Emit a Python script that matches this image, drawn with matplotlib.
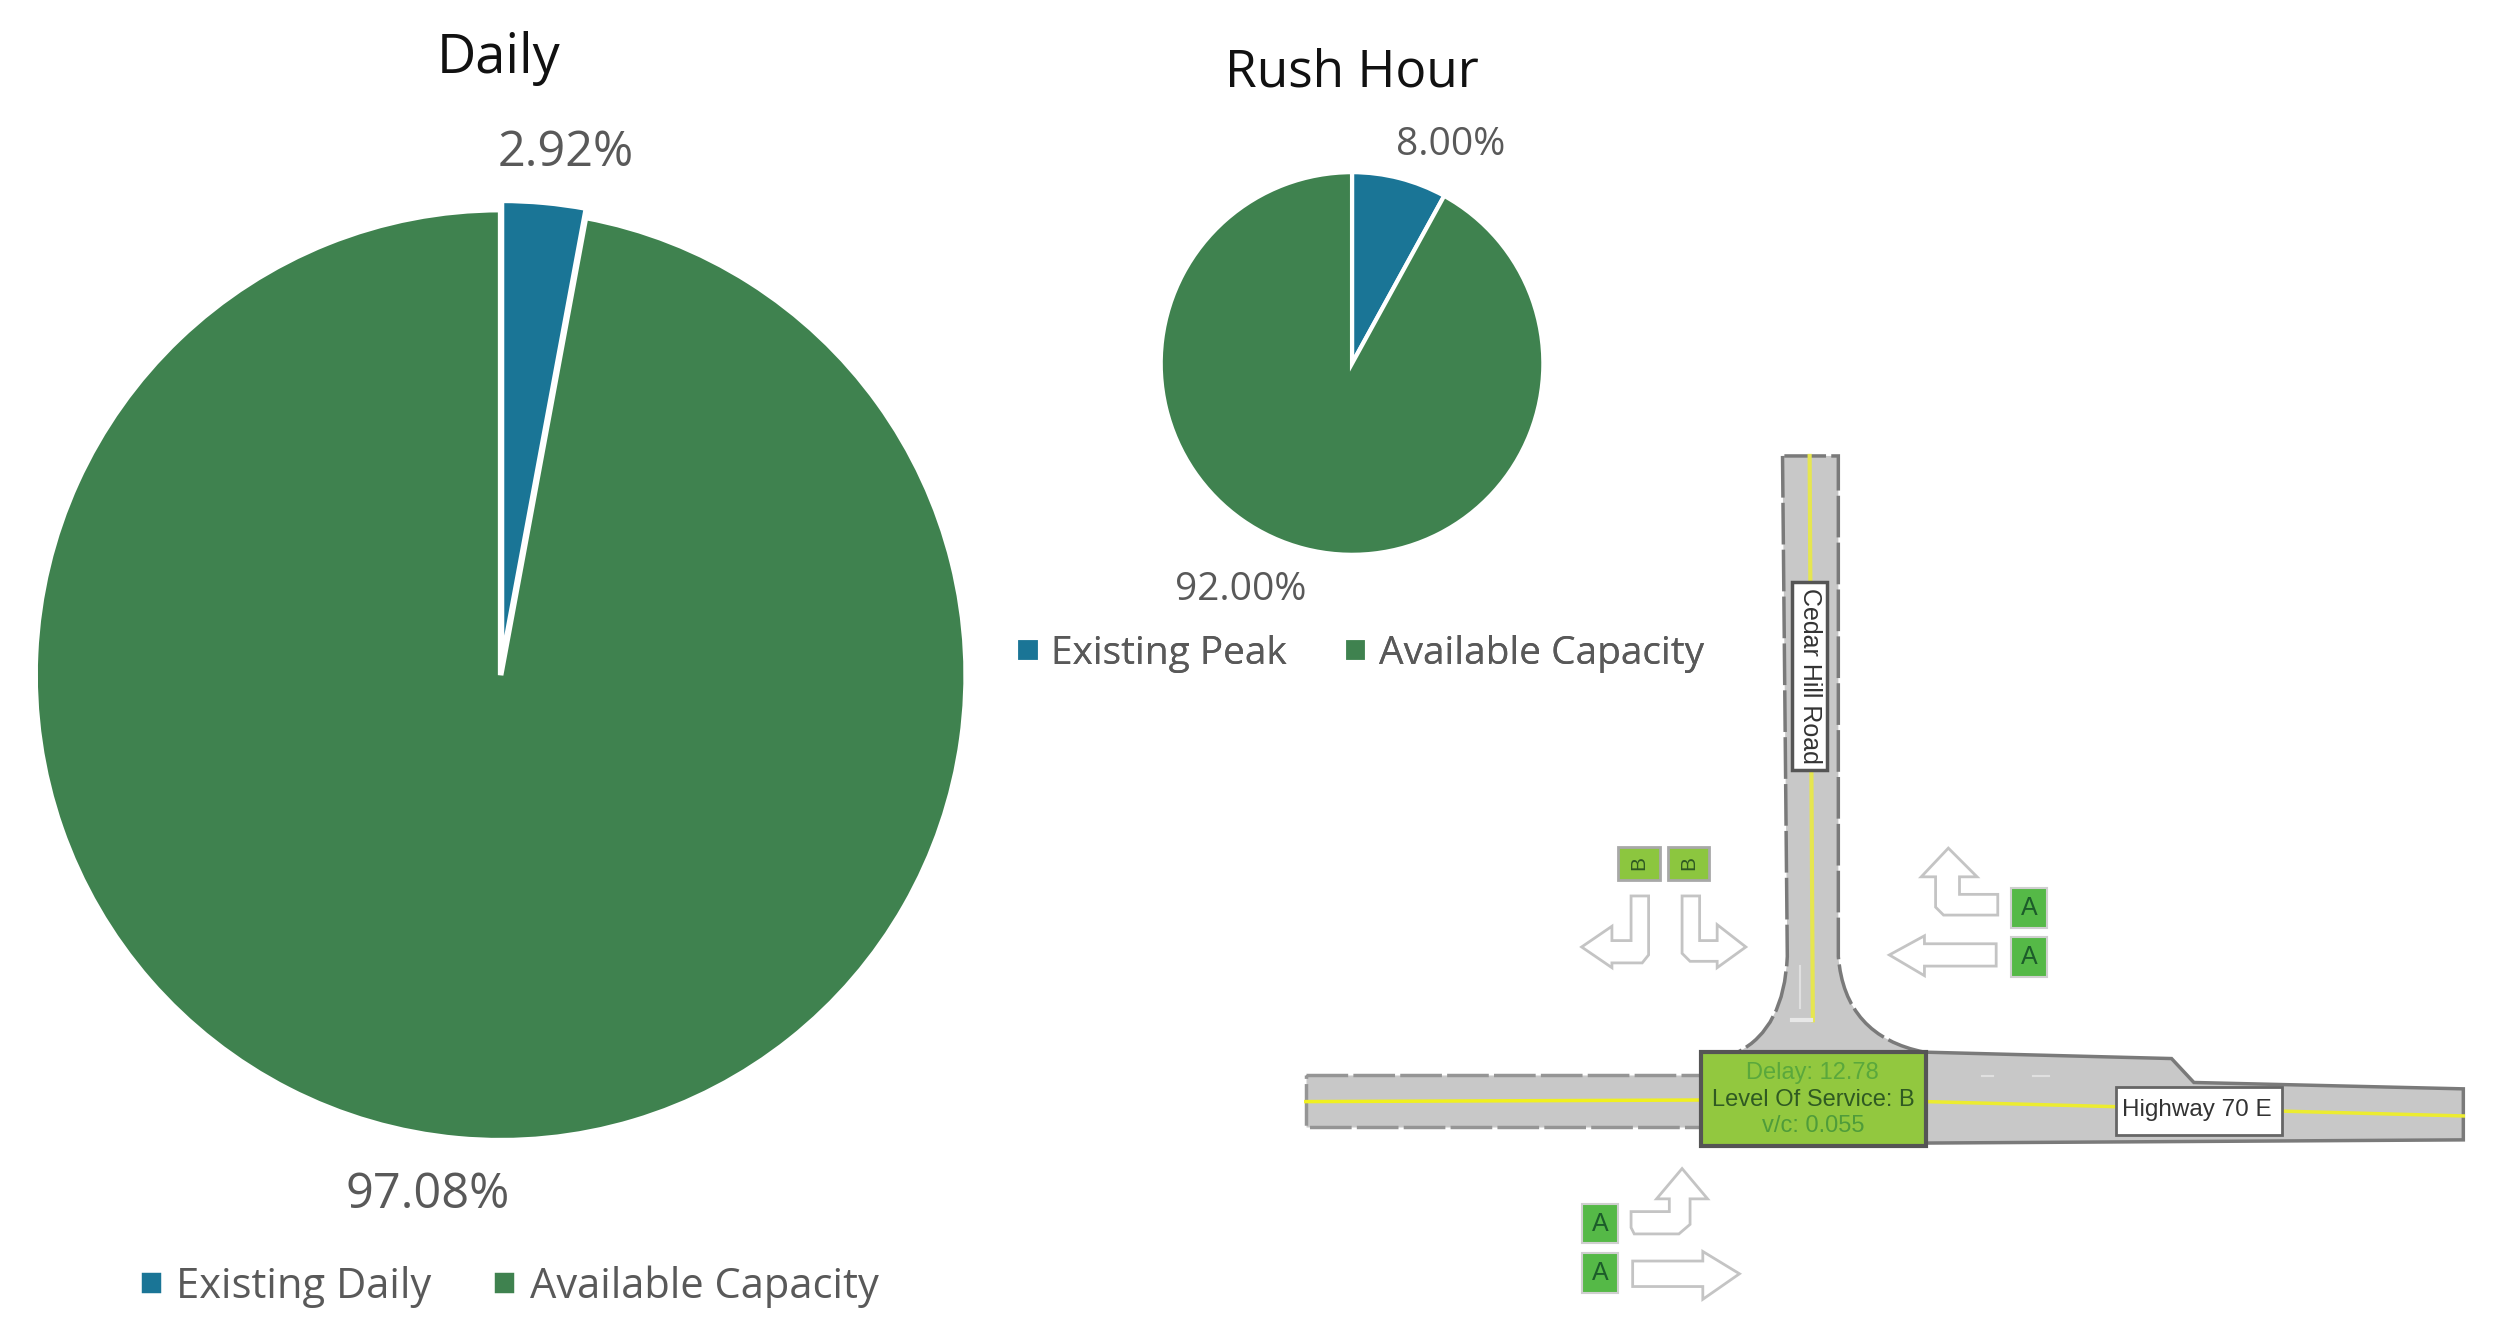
import matplotlib
matplotlib.use("Agg")
import matplotlib.pyplot as plt
from matplotlib.patches import Polygon, PathPatch, Rectangle
from matplotlib.path import Path

# chart data
daily_labels = ["Existing Daily", "Available Capacity"]
daily_values = [2.92, 97.08]
peak_labels = ["Existing Peak", "Available Capacity"]
peak_values = [8.00, 92.00]
colors = ["#1a7596", "#3f824f"]

# road sketch, in overlay units (figure is 1568 units wide)
north_road = [(1118, 286), (1121, 600), (1090, 660), (1207, 660), (1153, 600), (1153, 286)]
west_road = [(819, 674), (1067, 674), (1067, 707), (819, 707)]
east_road = [(1208, 660), (1362, 664), (1376, 679), (1545, 683), (1545, 715), (1208, 717)]
arrows = [
    [(1023, 562), (1034, 562), (1034, 599), (1030, 604), (1011, 604), (1011, 607), (992, 594), (1011, 581), (1011, 590), (1023, 590)],
    [(1055, 562), (1066, 562), (1066, 590), (1077, 590), (1077, 580), (1095, 594), (1077, 607), (1077, 603), (1060, 603), (1055, 598)],
    [(1222, 532), (1240, 550), (1229, 550), (1229, 561), (1253, 561), (1253, 574), (1219, 574), (1214, 569), (1214, 550), (1205, 550)],
    [(1185, 599), (1207, 587), (1207, 592), (1252, 592), (1252, 606), (1207, 606), (1207, 612)],
    [(1055, 733), (1071, 752), (1060, 752), (1060, 768), (1053, 774), (1025, 774), (1023, 770), (1023, 760), (1047, 760), (1047, 752), (1039, 752)],
    [(1024, 791), (1068, 791), (1068, 785), (1091, 799), (1068, 815), (1068, 807), (1024, 807)],
]
a_signs = [(1261, 557), (1261, 588), (992, 755), (992, 786)]
b_signs = [(1015, 531), (1046, 531)]

plt.rcParams['font.family'] = ['Open Sans', 'DejaVu Sans']
fig = plt.figure(figsize=(25, 13.35), dpi=100)

W, H = 1568, 837.4
overlay = fig.add_axes([0, 0, 1, 1], zorder=3)
overlay.set_xlim(0, W)
overlay.set_ylim(H, 0)
overlay.axis('off')
overlay.patch.set_alpha(0)


def pie_axes(cx, cy, r):
    ax = fig.add_axes([(cx - r) / W, 1 - (cy + r) / H, 2 * r / W, 2 * r / H])
    ax.set_aspect('equal')
    return ax


def draw_pie(ax, values, labels, legend_xy, legend_size, lw, explode=None):
    wedges, _ = ax.pie(values, colors=colors, startangle=90, counterclock=False, radius=1, explode=explode,
                       wedgeprops={'edgecolor': 'white', 'linewidth': lw})
    ax.set_xlim(-1, 1)
    ax.set_ylim(-1, 1)
    # two legends on one axes, so keep each as its own artist
    leg = overlay.legend(wedges, labels, loc='center', bbox_to_anchor=legend_xy,
                         bbox_transform=overlay.transData, ncol=2, frameon=False,
                         fontsize=legend_size, labelcolor='#595959', handlelength=0.6, handleheight=0.6,
                         handletextpad=0.3, columnspacing=1.45, borderpad=0)
    overlay.add_artist(leg)


daily_ax = pie_axes(314, 423.5, 292)
draw_pie(daily_ax, daily_values, daily_labels, (319, 807), 30, 4, explode=[0.02, 0])
peak_ax = pie_axes(848, 228, 120)
draw_pie(peak_ax, peak_values, peak_labels, (853, 410), 28, 3)

overlay.text(313, 37, "Daily", fontsize=39, color='#111111', ha='center', va='center')
overlay.text(848, 46, "Rush Hour", fontsize=37, color='#111111', ha='center', va='center')
overlay.text(355, 96, f"{daily_values[0]:.2f}%", fontsize=35, color='#595959', ha='center', va='center')
overlay.text(268, 750, f"{daily_values[1]:.2f}%", fontsize=35, color='#595959', ha='center', va='center')
overlay.text(910, 91, f"{peak_values[0]:.2f}%", fontsize=28, color='#595959', ha='center', va='center')
overlay.text(778, 370, f"{peak_values[1]:.2f}%", fontsize=28, color='#595959', ha='center', va='center')

# roads
road_fill = '#c8c8c8'
road_edge = '#7a7a7a'
dash = (0, (12, 1.5))
n = north_road
north_path = Path(
    [n[0], n[1], (1119, 645), n[2], n[3], (1157, 650), n[4], n[5], n[0]],
    [Path.MOVETO, Path.LINETO, Path.CURVE3, Path.CURVE3, Path.LINETO, Path.CURVE3, Path.CURVE3, Path.LINETO, Path.CLOSEPOLY],
)
overlay.add_patch(PathPatch(north_path, fc=road_fill, ec=road_edge, lw=2.5, ls=dash))
overlay.add_patch(Polygon(west_road, fc=road_fill, ec='#959595', lw=2.5, ls=dash))
overlay.add_patch(Polygon(east_road, fc=road_fill, ec=road_edge, lw=2.5))

overlay.plot([1135, 1137], [286, 640], color='#e6e650', lw=3)
overlay.plot([819, 1067], [691, 690], color='#f0f020', lw=2.5)
overlay.plot([1208, 1545], [691, 700], color='#ecec30', lw=2.5)
# faint lane marks
overlay.plot([1129, 1129], [606, 632], color='#e0e0e0', lw=1.5)
overlay.plot([1124, 1136], [640, 640], color='#e8e8e8', lw=3)
overlay.plot([1243, 1250], [675, 675], color='#e0e0e0', lw=1.5)
overlay.plot([1275, 1285], [675, 675], color='#e0e0e0', lw=1.5)

overlay.add_patch(Rectangle((1124, 365), 22, 118, fc='white', ec='#555555', lw=2.5, zorder=4))
overlay.text(1135, 424, "Cedar Hill Road", family='Liberation Sans', fontsize=18, rotation=-90, color='#333333',
             ha='center', va='center', zorder=5)
overlay.add_patch(Rectangle((1327, 682), 104, 30, fc='white', ec='#666666', lw=2, zorder=4))
overlay.text(1378, 696, "Highway 70 E", family='Liberation Sans', fontsize=17.5, color='#333333',
             ha='center', va='center', zorder=5)

overlay.add_patch(Rectangle((1067, 660), 141, 59, fc='#92c83f', ec='#555555', lw=3, zorder=4))
overlay.text(1137, 673, "Delay: 12.78", family='Liberation Sans', fontsize=17, color='#5aa83c', ha='center', va='center', zorder=5)
overlay.text(1137, 690, "Level Of Service: B", family='Liberation Sans', fontsize=17, color='#2f5a22', ha='center', va='center', zorder=5)
overlay.text(1137, 706, "v/c: 0.055", family='Liberation Sans', fontsize=17, color='#4f9c3a', ha='center', va='center', zorder=5)

for pts in arrows:
    overlay.add_patch(Polygon(pts, fc='white', ec='#c4c4c4', lw=2))

for x, y in a_signs:
    overlay.add_patch(Rectangle((x, y), 23, 25, fc='#55b947', ec='#cfcfcf', lw=1.5))
    overlay.text(x + 11.5, y + 12.5, "A", family='Liberation Sans', fontsize=18, color='#1c5c2a', ha='center', va='center')
for x, y in b_signs:
    overlay.add_patch(Rectangle((x, y), 26, 21, fc='#8cc63f', ec='#a8a8a8', lw=2))
    overlay.text(x + 13, y + 10.5, "B", family='Liberation Sans', fontsize=15, rotation=90, color='#2f5a22', ha='center', va='center')

fig.savefig("out.png", dpi=100)
